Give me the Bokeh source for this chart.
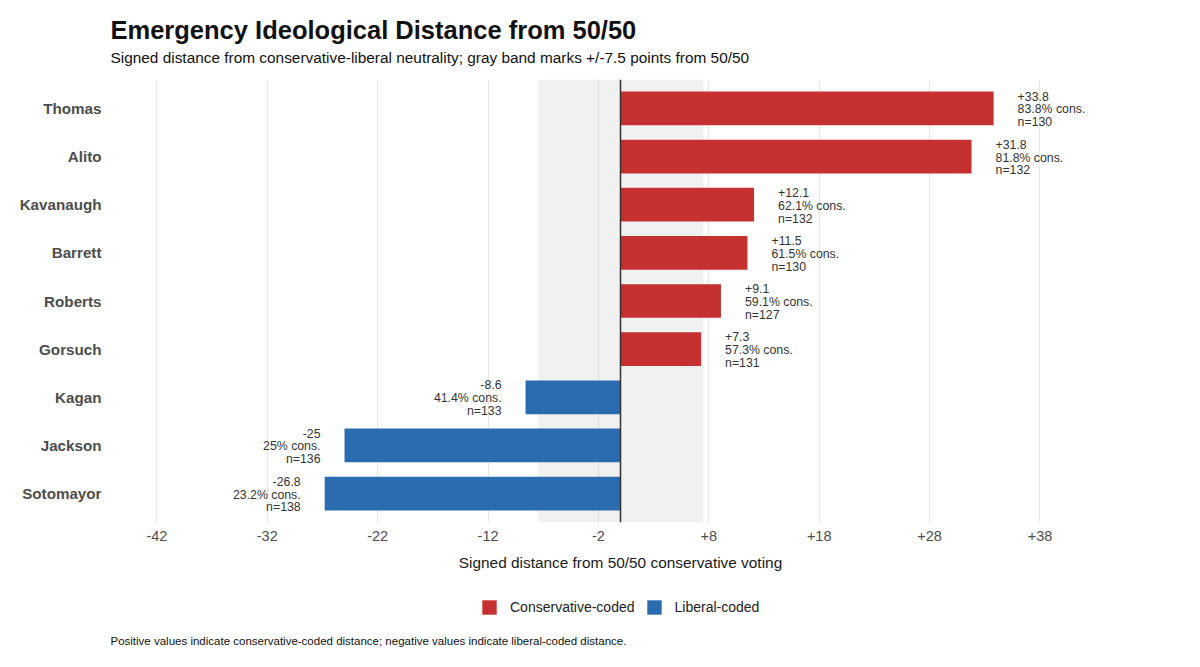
from bokeh.plotting import figure
from bokeh.layouts import column
from bokeh.models import (ColumnDataSource, FactorRange, Range1d, FixedTicker, Span,
                          BoxAnnotation, Title, Legend, LegendItem, Label)
from bokeh.core.properties import value
from bokeh.embed import file_html
from bokeh.resources import INLINE

judges = ["Thomas", "Alito", "Kavanaugh", "Barrett", "Roberts", "Gorsuch", "Kagan", "Jackson", "Sotomayor"]
distance = [33.8, 31.8, 12.1, 11.5, 9.1, 7.3, -8.6, -25, -26.8]
pct_cons = [83.8, 81.8, 62.1, 61.5, 59.1, 57.3, 41.4, 25, 23.2]
n_cases = [130, 132, 132, 130, 127, 131, 133, 136, 138]
x_ticks = [-42, -32, -22, -12, -2, 8, 18, 28, 38]
legend_labels = ["Conservative-coded", "Liberal-coded"]
band_half = 7.5

RED = "#C53030"
BLUE = "#2B6CB0"
FONT = "Liberation Sans"

labels = [f"{d:+g}\n{p:g}% cons.\nn={n}" for d, p, n in zip(distance, pct_cons, n_cases)]
src = ColumnDataSource(dict(
    judge=judges,
    dist=distance,
    color=[RED if d > 0 else BLUE for d in distance],
    label=labels,
    align=["left" if d > 0 else "right" for d in distance],
    xoff=[24 if d > 0 else -24 for d in distance],
))

p = figure(width=1200, height=580, output_backend="svg", toolbar_location=None, title=None,
           y_range=FactorRange(factors=judges[::-1], range_padding=0.2 / 9, range_padding_units="percent"),
           x_range=Range1d(-46.2, 46.2),
           min_border_left=110, min_border_right=70, min_border_top=79, min_border_bottom=58,
           background_fill_color="white", border_fill_color="white")
p.outline_line_color = None

# grid
p.ygrid.grid_line_color = None
p.xgrid.grid_line_color = "#E6E6E6"
p.xgrid.grid_line_width = 1
p.xgrid.ticker = FixedTicker(ticks=x_ticks)

# neutral band
band = BoxAnnotation(left=-band_half, right=band_half, fill_color="#BFBFBF", fill_alpha=0.22,
                     line_color=None, level="underlay")
p.add_layout(band)

p.hbar(y="judge", right="dist", left=0, height=0.7, color="color", line_color=None, source=src)

zero = Span(location=0, dimension="height", line_color="#333333", line_width=1.5)
p.add_layout(zero)

p.text(x="dist", y="judge", text="label", x_offset="xoff", y_offset=1, text_align="align",
       text_baseline="middle", text_font=value(FONT), text_font_size="12.3px",
       text_color="#333333", text_line_height=0.92, source=src)

# axes
p.xaxis.ticker = FixedTicker(ticks=x_ticks)
p.xaxis.major_label_overrides = {t: (f"{t:+d}" if t > 0 else f"{t:d}") for t in x_ticks}
p.xaxis.axis_line_color = None
p.xaxis.major_tick_line_color = None
p.xaxis.minor_tick_line_color = None
p.xaxis.major_tick_out = 0
p.xaxis.major_label_standoff = 8
p.xaxis.major_label_text_font = FONT
p.xaxis.major_label_text_font_size = "14.5px"
p.xaxis.major_label_text_color = "#4D4D4D"
p.xaxis.axis_label = "Signed distance from 50/50 conservative voting"
p.xaxis.axis_label_text_font = FONT
p.xaxis.axis_label_text_font_size = "15.4px"
p.xaxis.axis_label_text_font_style = "normal"
p.xaxis.axis_label_text_color = "#1A1A1A"
p.xaxis.axis_label_standoff = 10

p.yaxis.axis_line_color = None
p.yaxis.major_tick_line_color = None
p.yaxis.major_tick_out = 0
p.yaxis.major_label_standoff = 9
p.yaxis.major_label_text_font = FONT
p.yaxis.major_label_text_font_size = "15.2px"
p.yaxis.major_label_text_font_style = "bold"
p.yaxis.major_label_text_color = "#4D4D4D"

# titles above (first added = nearest to plot); first one is a white spacer
p.add_layout(Title(text=".", text_color="white", text_font_size="2px", standoff=11), "above")
p.add_layout(Title(text="Signed distance from conservative-liberal neutrality; gray band marks +/-7.5 points from 50/50",
                   text_font=FONT, text_font_size="15.4px", text_font_style="normal",
                   text_color="#111111", align="left", standoff=0), "above")
p.add_layout(Title(text="Emergency Ideological Distance from 50/50",
                   text_font=FONT, text_font_size="25.5px", text_font_style="bold",
                   text_color="#111111", align="left", standoff=6), "above")

# footer figure: legend + caption (frame aligned with main plot frame)
f = figure(width=1200, height=87, output_backend="svg", toolbar_location=None, title=None,
           x_range=Range1d(0, 1), y_range=Range1d(0, 1), x_axis_type=None, y_axis_type=None,
           min_border=0, min_border_left=0, min_border_right=0, min_border_top=0, min_border_bottom=0,
           background_fill_color="white", border_fill_color="white")
f.outline_line_color = None
f.xgrid.visible = False
f.ygrid.visible = False
r_cons = f.quad(left=[0], right=[0], top=[0], bottom=[0], fill_color=RED, line_color=None)
r_lib = f.quad(left=[0], right=[0], top=[0], bottom=[0], fill_color=BLUE, line_color=None)
legend = Legend(items=[LegendItem(label=legend_labels[0], renderers=[r_cons]),
                       LegendItem(label=legend_labels[1], renderers=[r_lib])],
                orientation="horizontal", location=(370, 51),
                glyph_width=18, glyph_height=18, label_height=18, label_standoff=12, spacing=10,
                padding=0, margin=0, border_line_color=None, background_fill_alpha=0,
                label_text_font=FONT, label_text_font_size="14px", label_text_color="#222222")
f.add_layout(legend, "center")
f.add_layout(Label(x=0, y=27, x_units="screen", y_units="screen",
                   text="Positive values indicate conservative-coded distance; negative values indicate liberal-coded distance.",
                   text_font=FONT, text_font_size="11.5px", text_color="#111111",
                   text_baseline="middle", text_align="left"))

layout = column(p, f, spacing=0)
open("out.html", "w").write(file_html(layout, INLINE))
